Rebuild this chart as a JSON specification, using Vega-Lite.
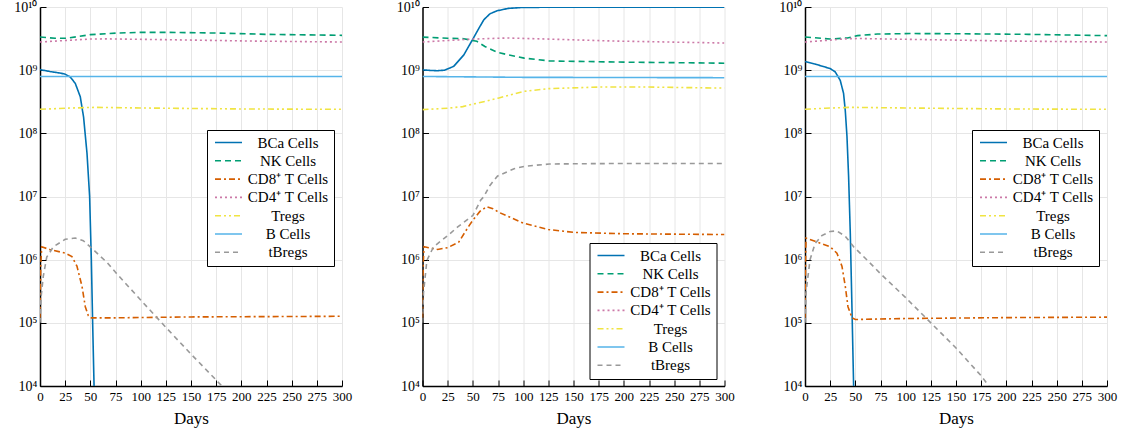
{
  "$schema": "https://vega.github.io/schema/vega-lite/v6.json",
  "padding": {"left": 13, "top": 0, "right": 10, "bottom": 2},
  "background": "white",
  "spacing": 80.5,
  "bounds": "flush",
  "data": {"values": [
    {"p":1,"s":"BCa Cells","d":0,"v":1.02e9},{"p":1,"s":"BCa Cells","d":10,"v":9.5e8},{"p":1,"s":"BCa Cells","d":20,"v":9e8},{"p":1,"s":"BCa Cells","d":25,"v":8.65e8},{"p":1,"s":"BCa Cells","d":30,"v":7.8e8},{"p":1,"s":"BCa Cells","d":35,"v":6.2e8},{"p":1,"s":"BCa Cells","d":40,"v":3.8e8},{"p":1,"s":"BCa Cells","d":43.3,"v":1.8e8},{"p":1,"s":"BCa Cells","d":46.7,"v":4.8e7},{"p":1,"s":"BCa Cells","d":49.3,"v":1e7},{"p":1,"s":"BCa Cells","d":51,"v":1e6},{"p":1,"s":"BCa Cells","d":52.3,"v":1e5},{"p":1,"s":"BCa Cells","d":53.7,"v":1e4},{"p":1,"s":"BCa Cells","d":54.5,"v":3e3},
    {"p":1,"s":"NK Cells","d":0,"v":3.35e9},{"p":1,"s":"NK Cells","d":15,"v":3.2e9},{"p":1,"s":"NK Cells","d":27,"v":3.2e9},{"p":1,"s":"NK Cells","d":50,"v":3.65e9},{"p":1,"s":"NK Cells","d":77,"v":3.87e9},{"p":1,"s":"NK Cells","d":100,"v":3.97e9},{"p":1,"s":"NK Cells","d":125,"v":3.97e9},{"p":1,"s":"NK Cells","d":175,"v":3.87e9},{"p":1,"s":"NK Cells","d":225,"v":3.69e9},{"p":1,"s":"NK Cells","d":300,"v":3.56e9},
    {"p":1,"s":"CD8⁺ T Cells","d":0,"v":1.2e5},{"p":1,"s":"CD8⁺ T Cells","d":0.7,"v":8e5},{"p":1,"s":"CD8⁺ T Cells","d":1.7,"v":1.6e6},{"p":1,"s":"CD8⁺ T Cells","d":10,"v":1.44e6},{"p":1,"s":"CD8⁺ T Cells","d":25,"v":1.27e6},{"p":1,"s":"CD8⁺ T Cells","d":31.7,"v":1.12e6},{"p":1,"s":"CD8⁺ T Cells","d":36.7,"v":7.9e5},{"p":1,"s":"CD8⁺ T Cells","d":41.7,"v":3.8e5},{"p":1,"s":"CD8⁺ T Cells","d":45,"v":1.8e5},{"p":1,"s":"CD8⁺ T Cells","d":48,"v":1.3e5},{"p":1,"s":"CD8⁺ T Cells","d":50,"v":1.2e5},{"p":1,"s":"CD8⁺ T Cells","d":75,"v":1.2e5},{"p":1,"s":"CD8⁺ T Cells","d":150,"v":1.24e5},{"p":1,"s":"CD8⁺ T Cells","d":300,"v":1.27e5},
    {"p":1,"s":"CD4⁺ T Cells","d":0,"v":2.79e9},{"p":1,"s":"CD4⁺ T Cells","d":25,"v":2.95e9},{"p":1,"s":"CD4⁺ T Cells","d":50,"v":3.11e9},{"p":1,"s":"CD4⁺ T Cells","d":65,"v":3.13e9},{"p":1,"s":"CD4⁺ T Cells","d":125,"v":3.04e9},{"p":1,"s":"CD4⁺ T Cells","d":210,"v":2.89e9},{"p":1,"s":"CD4⁺ T Cells","d":300,"v":2.79e9},
    {"p":1,"s":"Tregs","d":0,"v":2.4e8},{"p":1,"s":"Tregs","d":25,"v":2.5e8},{"p":1,"s":"Tregs","d":55,"v":2.58e8},{"p":1,"s":"Tregs","d":100,"v":2.52e8},{"p":1,"s":"Tregs","d":200,"v":2.43e8},{"p":1,"s":"Tregs","d":300,"v":2.4e8},
    {"p":1,"s":"B Cells","d":0,"v":7.95e8},{"p":1,"s":"B Cells","d":150,"v":7.93e8},{"p":1,"s":"B Cells","d":300,"v":7.92e8},
    {"p":1,"s":"tBregs","d":0,"v":1e5},{"p":1,"s":"tBregs","d":1,"v":2.5e5},{"p":1,"s":"tBregs","d":3.3,"v":5.5e5},{"p":1,"s":"tBregs","d":6.7,"v":1.1e6},{"p":1,"s":"tBregs","d":13.3,"v":1.6e6},{"p":1,"s":"tBregs","d":25,"v":2.1e6},{"p":1,"s":"tBregs","d":35,"v":2.2e6},{"p":1,"s":"tBregs","d":43,"v":2e6},{"p":1,"s":"tBregs","d":51.7,"v":1.5e6},{"p":1,"s":"tBregs","d":66.7,"v":9e5},{"p":1,"s":"tBregs","d":75,"v":6.3e5},{"p":1,"s":"tBregs","d":100,"v":2.3e5},{"p":1,"s":"tBregs","d":125,"v":8.5e4},{"p":1,"s":"tBregs","d":150,"v":3.2e4},{"p":1,"s":"tBregs","d":174,"v":1.29e4},{"p":1,"s":"tBregs","d":190,"v":7e3},

    {"p":2,"s":"BCa Cells","d":0,"v":1.01e9},{"p":2,"s":"BCa Cells","d":8,"v":9.9e8},{"p":2,"s":"BCa Cells","d":15,"v":9.8e8},{"p":2,"s":"BCa Cells","d":22,"v":1.0e9},{"p":2,"s":"BCa Cells","d":31,"v":1.15e9},{"p":2,"s":"BCa Cells","d":41,"v":1.74e9},{"p":2,"s":"BCa Cells","d":50,"v":3.1e9},{"p":2,"s":"BCa Cells","d":56,"v":4.6e9},{"p":2,"s":"BCa Cells","d":61,"v":6.3e9},{"p":2,"s":"BCa Cells","d":67,"v":7.8e9},{"p":2,"s":"BCa Cells","d":74,"v":8.7e9},{"p":2,"s":"BCa Cells","d":85,"v":9.5e9},{"p":2,"s":"BCa Cells","d":100,"v":9.85e9},{"p":2,"s":"BCa Cells","d":150,"v":9.95e9},{"p":2,"s":"BCa Cells","d":300,"v":9.95e9},
    {"p":2,"s":"NK Cells","d":0,"v":3.34e9},{"p":2,"s":"NK Cells","d":25,"v":3.2e9},{"p":2,"s":"NK Cells","d":41,"v":3.15e9},{"p":2,"s":"NK Cells","d":54,"v":2.86e9},{"p":2,"s":"NK Cells","d":62,"v":2.37e9},{"p":2,"s":"NK Cells","d":75,"v":1.9e9},{"p":2,"s":"NK Cells","d":101,"v":1.55e9},{"p":2,"s":"NK Cells","d":126,"v":1.4e9},{"p":2,"s":"NK Cells","d":200,"v":1.34e9},{"p":2,"s":"NK Cells","d":300,"v":1.29e9},
    {"p":2,"s":"CD8⁺ T Cells","d":0,"v":1.2e5},{"p":2,"s":"CD8⁺ T Cells","d":0.7,"v":8e5},{"p":2,"s":"CD8⁺ T Cells","d":1.5,"v":1.6e6},{"p":2,"s":"CD8⁺ T Cells","d":15,"v":1.45e6},{"p":2,"s":"CD8⁺ T Cells","d":25,"v":1.55e6},{"p":2,"s":"CD8⁺ T Cells","d":36,"v":1.9e6},{"p":2,"s":"CD8⁺ T Cells","d":46,"v":3.4e6},{"p":2,"s":"CD8⁺ T Cells","d":50,"v":4.2e6},{"p":2,"s":"CD8⁺ T Cells","d":57,"v":5.8e6},{"p":2,"s":"CD8⁺ T Cells","d":63.7,"v":6.9e6},{"p":2,"s":"CD8⁺ T Cells","d":70,"v":6.4e6},{"p":2,"s":"CD8⁺ T Cells","d":76,"v":5.6e6},{"p":2,"s":"CD8⁺ T Cells","d":100,"v":3.8e6},{"p":2,"s":"CD8⁺ T Cells","d":125,"v":3.0e6},{"p":2,"s":"CD8⁺ T Cells","d":151,"v":2.7e6},{"p":2,"s":"CD8⁺ T Cells","d":200,"v":2.57e6},{"p":2,"s":"CD8⁺ T Cells","d":300,"v":2.5e6},
    {"p":2,"s":"CD4⁺ T Cells","d":0,"v":2.79e9},{"p":2,"s":"CD4⁺ T Cells","d":25,"v":2.95e9},{"p":2,"s":"CD4⁺ T Cells","d":51,"v":3.11e9},{"p":2,"s":"CD4⁺ T Cells","d":84,"v":3.23e9},{"p":2,"s":"CD4⁺ T Cells","d":124,"v":3.11e9},{"p":2,"s":"CD4⁺ T Cells","d":191,"v":2.89e9},{"p":2,"s":"CD4⁺ T Cells","d":300,"v":2.69e9},
    {"p":2,"s":"Tregs","d":0,"v":2.37e8},{"p":2,"s":"Tregs","d":25,"v":2.5e8},{"p":2,"s":"Tregs","d":40,"v":2.65e8},{"p":2,"s":"Tregs","d":50,"v":2.9e8},{"p":2,"s":"Tregs","d":62,"v":3.2e8},{"p":2,"s":"Tregs","d":75,"v":3.6e8},{"p":2,"s":"Tregs","d":100,"v":4.6e8},{"p":2,"s":"Tregs","d":125,"v":5.1e8},{"p":2,"s":"Tregs","d":175,"v":5.4e8},{"p":2,"s":"Tregs","d":225,"v":5.4e8},{"p":2,"s":"Tregs","d":300,"v":5.2e8},
    {"p":2,"s":"B Cells","d":0,"v":7.95e8},{"p":2,"s":"B Cells","d":100,"v":7.7e8},{"p":2,"s":"B Cells","d":300,"v":7.6e8},
    {"p":2,"s":"tBregs","d":0,"v":1e5},{"p":2,"s":"tBregs","d":1,"v":3e5},{"p":2,"s":"tBregs","d":4.4,"v":9.8e5},{"p":2,"s":"tBregs","d":11,"v":1.6e6},{"p":2,"s":"tBregs","d":25,"v":2.4e6},{"p":2,"s":"tBregs","d":35,"v":3.3e6},{"p":2,"s":"tBregs","d":50,"v":5e6},{"p":2,"s":"tBregs","d":57.7,"v":8.7e6},{"p":2,"s":"tBregs","d":61,"v":1e7},{"p":2,"s":"tBregs","d":67,"v":1.5e7},{"p":2,"s":"tBregs","d":74.4,"v":2.1e7},{"p":2,"s":"tBregs","d":91,"v":2.75e7},{"p":2,"s":"tBregs","d":101,"v":3.0e7},{"p":2,"s":"tBregs","d":126,"v":3.27e7},{"p":2,"s":"tBregs","d":175,"v":3.32e7},{"p":2,"s":"tBregs","d":300,"v":3.33e7},

    {"p":3,"s":"BCa Cells","d":0,"v":1.37e9},{"p":3,"s":"BCa Cells","d":10,"v":1.25e9},{"p":3,"s":"BCa Cells","d":25,"v":1.06e9},{"p":3,"s":"BCa Cells","d":30,"v":9.4e8},{"p":3,"s":"BCa Cells","d":35,"v":6.9e8},{"p":3,"s":"BCa Cells","d":38.3,"v":4.3e8},{"p":3,"s":"BCa Cells","d":40,"v":2.3e8},{"p":3,"s":"BCa Cells","d":41.7,"v":8.9e7},{"p":3,"s":"BCa Cells","d":43.3,"v":2.1e7},{"p":3,"s":"BCa Cells","d":45,"v":2.6e6},{"p":3,"s":"BCa Cells","d":46.7,"v":1.6e5},{"p":3,"s":"BCa Cells","d":48.3,"v":1e4},{"p":3,"s":"BCa Cells","d":49.5,"v":2e3},
    {"p":3,"s":"NK Cells","d":0,"v":3.35e9},{"p":3,"s":"NK Cells","d":25,"v":3.11e9},{"p":3,"s":"NK Cells","d":42,"v":3.23e9},{"p":3,"s":"NK Cells","d":52,"v":3.52e9},{"p":3,"s":"NK Cells","d":72,"v":3.73e9},{"p":3,"s":"NK Cells","d":105,"v":3.8e9},{"p":3,"s":"NK Cells","d":155,"v":3.77e9},{"p":3,"s":"NK Cells","d":222,"v":3.69e9},{"p":3,"s":"NK Cells","d":300,"v":3.52e9},
    {"p":3,"s":"CD8⁺ T Cells","d":0,"v":1.2e5},{"p":3,"s":"CD8⁺ T Cells","d":0.5,"v":9e5},{"p":3,"s":"CD8⁺ T Cells","d":1,"v":2.2e6},{"p":3,"s":"CD8⁺ T Cells","d":10,"v":1.95e6},{"p":3,"s":"CD8⁺ T Cells","d":25,"v":1.6e6},{"p":3,"s":"CD8⁺ T Cells","d":31.7,"v":1.27e6},{"p":3,"s":"CD8⁺ T Cells","d":36.7,"v":7.9e5},{"p":3,"s":"CD8⁺ T Cells","d":40,"v":3.8e5},{"p":3,"s":"CD8⁺ T Cells","d":42.7,"v":1.8e5},{"p":3,"s":"CD8⁺ T Cells","d":46.7,"v":1.2e5},{"p":3,"s":"CD8⁺ T Cells","d":50,"v":1.13e5},{"p":3,"s":"CD8⁺ T Cells","d":100,"v":1.17e5},{"p":3,"s":"CD8⁺ T Cells","d":200,"v":1.21e5},{"p":3,"s":"CD8⁺ T Cells","d":300,"v":1.23e5},
    {"p":3,"s":"CD4⁺ T Cells","d":0,"v":2.79e9},{"p":3,"s":"CD4⁺ T Cells","d":20,"v":2.95e9},{"p":3,"s":"CD4⁺ T Cells","d":42,"v":3.15e9},{"p":3,"s":"CD4⁺ T Cells","d":55,"v":3.17e9},{"p":3,"s":"CD4⁺ T Cells","d":122,"v":3.04e9},{"p":3,"s":"CD4⁺ T Cells","d":205,"v":2.89e9},{"p":3,"s":"CD4⁺ T Cells","d":300,"v":2.79e9},
    {"p":3,"s":"Tregs","d":0,"v":2.4e8},{"p":3,"s":"Tregs","d":20,"v":2.5e8},{"p":3,"s":"Tregs","d":45,"v":2.58e8},{"p":3,"s":"Tregs","d":100,"v":2.52e8},{"p":3,"s":"Tregs","d":200,"v":2.43e8},{"p":3,"s":"Tregs","d":300,"v":2.4e8},
    {"p":3,"s":"B Cells","d":0,"v":7.95e8},{"p":3,"s":"B Cells","d":150,"v":7.93e8},{"p":3,"s":"B Cells","d":300,"v":7.92e8},
    {"p":3,"s":"tBregs","d":0,"v":1e5},{"p":3,"s":"tBregs","d":1,"v":3e5},{"p":3,"s":"tBregs","d":5,"v":1e6},{"p":3,"s":"tBregs","d":10,"v":1.8e6},{"p":3,"s":"tBregs","d":16.7,"v":2.4e6},{"p":3,"s":"tBregs","d":25,"v":2.8e6},{"p":3,"s":"tBregs","d":31.7,"v":2.85e6},{"p":3,"s":"tBregs","d":40,"v":2.35e6},{"p":3,"s":"tBregs","d":48.3,"v":1.6e6},{"p":3,"s":"tBregs","d":63.3,"v":9.3e5},{"p":3,"s":"tBregs","d":75,"v":6e5},{"p":3,"s":"tBregs","d":100,"v":2.5e5},{"p":3,"s":"tBregs","d":125,"v":1e5},{"p":3,"s":"tBregs","d":150,"v":4e4},{"p":3,"s":"tBregs","d":175,"v":1.45e4},{"p":3,"s":"tBregs","d":190,"v":7e3}
  ]},
  "resolve": {"legend": {"color": "independent", "strokeDash": "independent"}},
  "hconcat": [
    {
      "width": 302, "height": 379,
      "transform": [{"filter": "datum.p == 1"}],
      "mark": {"type": "line", "clip": true, "strokeWidth": 1.6},
      "encoding": {
        "x": {"field": "d", "type": "quantitative", "scale": {"domain": [0, 300], "nice": false}, "axis": {"values": [0,25,50,75,100,125,150,175,200,225,250,275,300], "title": "Days", "tickSize": -6, "ticks": true}},
        "y": {"field": "v", "type": "quantitative", "scale": {"type": "log", "domain": [1e4, 1e10], "nice": false}, "axis": {"values": [1e4,1e5,1e6,1e7,1e8,1e9,1e10], "labelExpr": "'10' + ['⁴','⁵','⁶','⁷','⁸','⁹','¹⁰'][round(log(datum.value)/LN10) - 4]", "title": null, "tickSize": -6, "ticks": true}},
        "color": {"field": "s", "type": "nominal", "scale": {"domain": ["BCa Cells","NK Cells","CD8⁺ T Cells","CD4⁺ T Cells","Tregs","B Cells","tBregs"], "range": ["#0072b2","#009e73","#d55e00","#cc79a7","#f0e442","#56b4e9","#999999"]}, "legend": {"orient": "none", "legendX": 167, "legendY": 123}},
        "strokeDash": {"field": "s", "type": "nominal", "scale": {"domain": ["BCa Cells","NK Cells","CD8⁺ T Cells","CD4⁺ T Cells","Tregs","B Cells","tBregs"], "range": [[1,0],[6,4],[6,3,2,3],[2,3],[6,3,2,3,2,3],[1,0],[5,4]]}, "legend": {"orient": "none", "legendX": 167, "legendY": 123}}
      }
    },
    {
      "width": 302, "height": 379,
      "transform": [{"filter": "datum.p == 2"}],
      "mark": {"type": "line", "clip": true, "strokeWidth": 1.6},
      "encoding": {
        "x": {"field": "d", "type": "quantitative", "scale": {"domain": [0, 300], "nice": false}, "axis": {"values": [0,25,50,75,100,125,150,175,200,225,250,275,300], "title": "Days", "tickSize": -6, "ticks": true}},
        "y": {"field": "v", "type": "quantitative", "scale": {"type": "log", "domain": [1e4, 1e10], "nice": false}, "axis": {"values": [1e4,1e5,1e6,1e7,1e8,1e9,1e10], "labelExpr": "'10' + ['⁴','⁵','⁶','⁷','⁸','⁹','¹⁰'][round(log(datum.value)/LN10) - 4]", "title": null, "tickSize": -6, "ticks": true}},
        "color": {"field": "s", "type": "nominal", "scale": {"domain": ["BCa Cells","NK Cells","CD8⁺ T Cells","CD4⁺ T Cells","Tregs","B Cells","tBregs"], "range": ["#0072b2","#009e73","#d55e00","#cc79a7","#f0e442","#56b4e9","#999999"]}, "legend": {"orient": "none", "legendX": 167, "legendY": 236}},
        "strokeDash": {"field": "s", "type": "nominal", "scale": {"domain": ["BCa Cells","NK Cells","CD8⁺ T Cells","CD4⁺ T Cells","Tregs","B Cells","tBregs"], "range": [[1,0],[6,4],[6,3,2,3],[2,3],[6,3,2,3,2,3],[1,0],[5,4]]}, "legend": {"orient": "none", "legendX": 167, "legendY": 236}}
      }
    },
    {
      "width": 302, "height": 379,
      "transform": [{"filter": "datum.p == 3"}],
      "mark": {"type": "line", "clip": true, "strokeWidth": 1.6},
      "encoding": {
        "x": {"field": "d", "type": "quantitative", "scale": {"domain": [0, 300], "nice": false}, "axis": {"values": [0,25,50,75,100,125,150,175,200,225,250,275,300], "title": "Days", "tickSize": -6, "ticks": true}},
        "y": {"field": "v", "type": "quantitative", "scale": {"type": "log", "domain": [1e4, 1e10], "nice": false}, "axis": {"values": [1e4,1e5,1e6,1e7,1e8,1e9,1e10], "labelExpr": "'10' + ['⁴','⁵','⁶','⁷','⁸','⁹','¹⁰'][round(log(datum.value)/LN10) - 4]", "title": null, "tickSize": -6, "ticks": true}},
        "color": {"field": "s", "type": "nominal", "scale": {"domain": ["BCa Cells","NK Cells","CD8⁺ T Cells","CD4⁺ T Cells","Tregs","B Cells","tBregs"], "range": ["#0072b2","#009e73","#d55e00","#cc79a7","#f0e442","#56b4e9","#999999"]}, "legend": {"orient": "none", "legendX": 167, "legendY": 123}},
        "strokeDash": {"field": "s", "type": "nominal", "scale": {"domain": ["BCa Cells","NK Cells","CD8⁺ T Cells","CD4⁺ T Cells","Tregs","B Cells","tBregs"], "range": [[1,0],[6,4],[6,3,2,3],[2,3],[6,3,2,3,2,3],[1,0],[5,4]]}, "legend": {"orient": "none", "legendX": 167, "legendY": 123}}
      }
    }
  ],
  "config": {
    "view": {"stroke": null},
    "font": "Liberation Serif",
    "axis": {
      "grid": true, "gridColor": "#e6e6e6", "gridWidth": 1,
      "domainColor": "black", "domainWidth": 1.5,
      "tickColor": "black", "tickWidth": 1,
      "labelColor": "black", "labelFont": "Liberation Serif", "labelFontSize": 13, "labelOverlap": false, "labelFlush": false,
      "titleFont": "Liberation Serif", "titleFontSize": 17, "titleFontWeight": "normal", "titleColor": "black", "titlePadding": 7
    },
    "axisX": {"labelPadding": 10},
    "axisY": {"labelPadding": 9, "labelFontSize": 14},
    "legend": {
      "title": null,
      "symbolType": "M-1,0H5",
      "symbolSize": 81,
      "symbolStrokeWidth": 1.6,
      "labelAlign": "center",
      "labelOffset": 61,
      "labelFont": "Liberation Serif",
      "labelFontSize": 15,
      "labelColor": "black",
      "strokeColor": "black",
      "fillColor": "white",
      "padding": 5,
      "rowPadding": 2.3,
      "cornerRadius": 0
    }
  }
}
